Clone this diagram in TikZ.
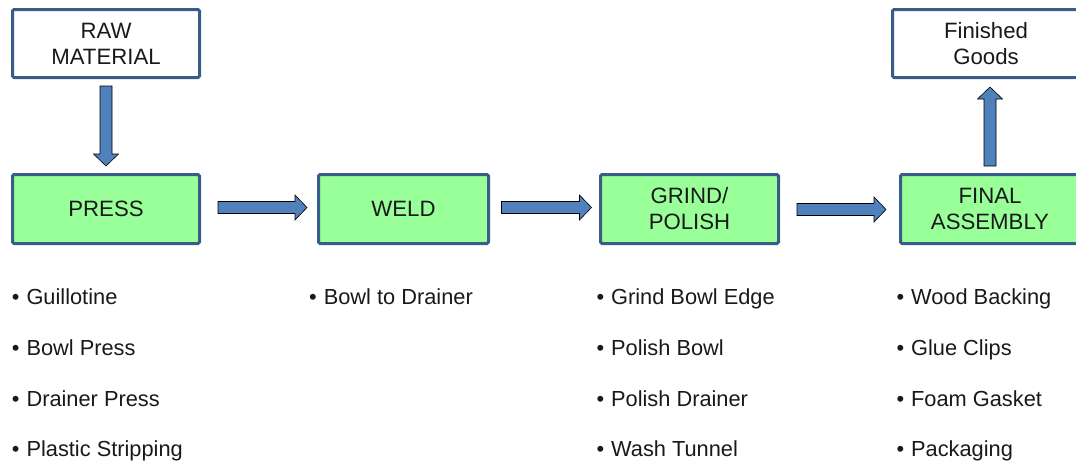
\documentclass[tikz,border=0pt]{standalone}
\usepackage{fontspec}
\setmainfont{Liberation Sans}
\usetikzlibrary{calc}
\definecolor{boxblue}{RGB}{56,93,138}
\definecolor{boxgreen}{RGB}{153,255,153}
\definecolor{arrowblue}{RGB}{79,129,189}
\definecolor{txt}{RGB}{25,25,25}
\newcommand{\bul}{\textbullet\hspace{7pt}}
\begin{document}
\begin{tikzpicture}[x=1pt,y=-1pt,
  box/.style={draw=boxblue, line width=3pt, rounded corners=1.5pt, inner sep=0pt, outer sep=0pt,
    align=center, text=txt, font=\fontsize{22.2}{26}\selectfont},
  whitebox/.style={box, fill=white},
  stepbox/.style={box, fill=boxgreen},
  item/.style={anchor=base west, inner sep=0pt, text=txt, font=\fontsize{21.8}{24}\selectfont},
  blockarrow/.style={draw=black, line width=0.6pt, fill=arrowblue, line join=miter,
    to path={let \p1=(\tikztostart), \p2=(\tikztotarget),
      \n1={atan2(\y2-\y1,\x2-\x1)}, \n2={veclen(\x2-\x1,\y2-\y1)} in
      ($(\p1)+(\n1+90:6pt)$)
      -- ($(\p1)+(\n1:\n2-12pt)+(\n1+90:6pt)$)
      -- ($(\p1)+(\n1:\n2-12pt)+(\n1+90:12.5pt)$)
      -- (\p2)
      -- ($(\p1)+(\n1:\n2-12pt)+(\n1-90:12.5pt)$)
      -- ($(\p1)+(\n1:\n2-12pt)+(\n1-90:6pt)$)
      -- ($(\p1)+(\n1-90:6pt)$) -- cycle}}
]
\useasboundingbox (0,0) rectangle (1076,464);

% boxes
\node[whitebox, minimum width=187pt, minimum height=68pt] (raw) at (106,43.5) {RAW\\MATERIAL};
\node[stepbox, minimum width=187pt, minimum height=69pt] (press) at (106,209) {PRESS};
\node[stepbox, minimum width=170pt, minimum height=69pt] (weld) at (403.5,209) {WELD};
\node[stepbox, minimum width=178pt, minimum height=69pt] (grind) at (689.5,209) {GRIND/\\POLISH};
\node[stepbox, minimum width=179pt, minimum height=69pt] (final) at (990,209) {FINAL\\ASSEMBLY};
\node[whitebox, minimum width=187pt, minimum height=68pt] (finished) at (986,43.5) {Finished\\Goods};

% arrow end points
\coordinate (a1s) at ($(raw.south)+(0,8.5)$);
\coordinate (a1e) at ($(press.north)+(0,-8.5)$);
\coordinate (a2s) at ($(press.east)+(18.5,-1.5)$);
\coordinate (a2e) at ($(weld.west)+(-11.5,-1.5)$);
\coordinate (a3s) at ($(weld.east)+(13,-1.5)$);
\coordinate (a3e) at ($(grind.west)+(-9,-1.5)$);
\coordinate (a4s) at ($(grind.east)+(18.5,0.5)$);
\coordinate (a4e) at ($(final.west)+(-14.5,0.5)$);
\coordinate (a5s) at ($(final.north)+(0,-8.5)$);
\coordinate (a5e) at ($(final.north |- finished.south)+(0,9.5)$);

\draw[blockarrow] (a1s) to (a1e);
\draw[blockarrow] (a2s) to (a2e);
\draw[blockarrow] (a3s) to (a3e);
\draw[blockarrow] (a4s) to (a4e);
\draw[blockarrow] (a5s) to (a5e);

% lists
\node[item] (p1) at (11.7,304) {\bul Guillotine};
\node[item] (p2) at (11.7,355.5) {\bul Bowl Press};
\node[item] (p3) at (11.7,406) {\bul Drainer Press};
\node[item] (p4) at (11.7,456) {\bul Plastic Stripping};

\node[item] (w1) at (309,304) {\bul Bowl to Drainer};

\node[item] (g1) at (596.3,304) {\bul Grind Bowl Edge};
\node[item] (g2) at (596.3,355.5) {\bul Polish Bowl};
\node[item] (g3) at (596.3,406) {\bul Polish Drainer};
\node[item] (g4) at (596.3,456) {\bul Wash Tunnel};

\node[item] (f1) at (896.3,304) {\bul Wood Backing};
\node[item] (f2) at (896.3,355.5) {\bul Glue Clips};
\node[item] (f3) at (896.3,406) {\bul Foam Gasket};
\node[item] (f4) at (896.3,456) {\bul Packaging};
\end{tikzpicture}
\end{document}
